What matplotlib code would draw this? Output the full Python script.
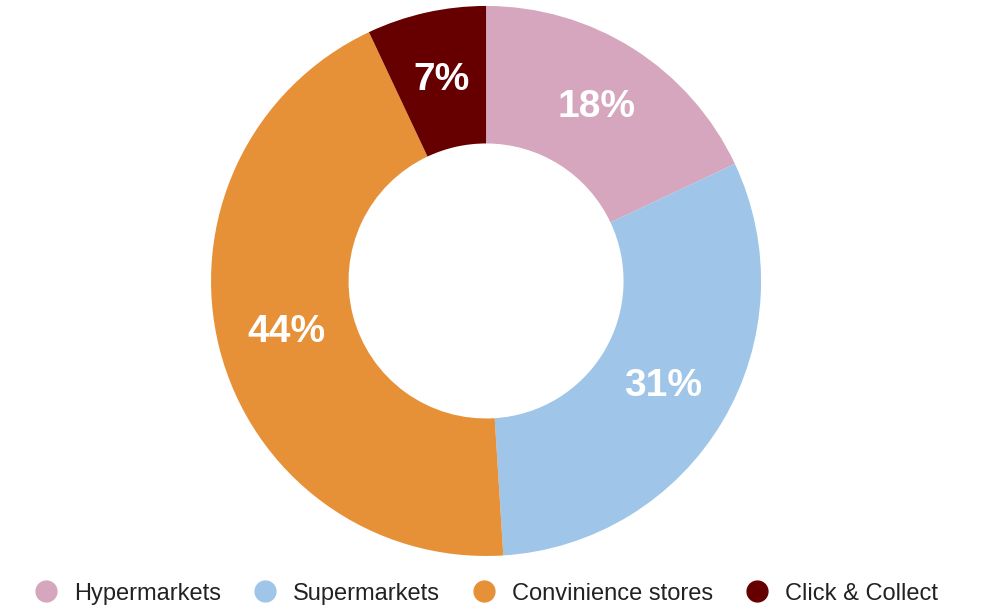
import matplotlib.pyplot as plt
from matplotlib.lines import Line2D

plt.rcParams['font.family'] = ['Liberation Sans', 'DejaVu Sans']

channels = ["Hypermarkets", "Supermarkets", "Convinience stores", "Click & Collect"]
shares = [18, 31, 44, 7]
colors = ["#D5A6BD", "#9FC5E8", "#E69138", "#660000"]

fig = plt.figure(figsize=(9.88, 6.14), dpi=100)
ax = fig.add_axes([0.2136, 0.0945, 0.5567, 0.8958])

wedges, texts, autotexts = ax.pie(
    shares, colors=colors, startangle=90, counterclock=False,
    radius=1.0, autopct="%.0f%%", pctdistance=0.75,
    wedgeprops=dict(width=0.5, edgecolor="none"),
    textprops=dict(color="white", fontsize=28, fontweight="bold"))
ax.set_xlim(-1, 1)
ax.set_ylim(-1, 1)
ax.set_aspect("equal")

handles = [Line2D([], [], marker="o", linestyle="none", markersize=15,
                  markerfacecolor=c, markeredgecolor=c) for c in colors]
fig.legend(handles, channels, loc="center", bbox_to_anchor=(0.492, 0.033),
           ncol=4, frameon=False, fontsize=17, handlelength=1.0,
           handletextpad=0.7, columnspacing=1.35, labelcolor="#222222")

fig.savefig("out.png", dpi=100)
